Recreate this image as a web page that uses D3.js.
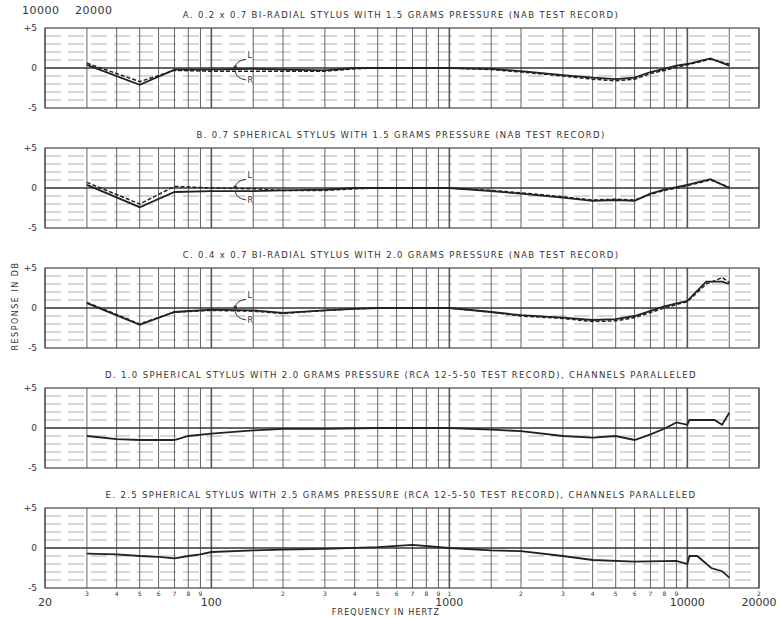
<!DOCTYPE html>
<html>
<head>
<meta charset="utf-8">
<script src="https://cdn.jsdelivr.net/npm/d3@7"></script>
<style>
  body { margin: 0; background: #fff; }
  text { font-family: "DejaVu Sans", sans-serif; fill: #333; }
</style>
</head>
<body>
<svg class="chart" width="780" height="617"></svg>
<script>
// panel titles
var panelTitles = [
  "A.  0.2 x 0.7 BI-RADIAL STYLUS WITH 1.5 GRAMS PRESSURE (NAB TEST RECORD)",
  "B.  0.7 SPHERICAL STYLUS WITH 1.5 GRAMS PRESSURE (NAB TEST RECORD)",
  "C.  0.4 x 0.7 BI-RADIAL STYLUS WITH 2.0 GRAMS PRESSURE (NAB TEST RECORD)",
  "D.  1.0 SPHERICAL STYLUS WITH 2.0 GRAMS PRESSURE (RCA 12-5-50 TEST RECORD), CHANNELS PARALLELED",
  "E.  2.5 SPHERICAL STYLUS WITH 2.5 GRAMS PRESSURE (RCA 12-5-50 TEST RECORD), CHANNELS PARALLELED"
];

// response curves (dB), L solid / R dashed
var freqA = [30, 50, 70, 100, 150, 200, 300, 400, 500, 700, 1000, 1500, 2000, 3000, 4000, 5000, 6000, 7000, 8000, 9000, 10000, 12500, 15000];
var leftA  = [0.4, -2.1, -0.2, -0.2, -0.1, -0.2, -0.3, 0, 0, 0, 0, -0.1, -0.4, -0.9, -1.2, -1.4, -1.2, -0.5, -0.1, 0.3, 0.5, 1.2, 0.3];
var rightA = [0.6, -1.7, -0.3, -0.4, -0.4, -0.4, -0.4, -0.1, 0, 0, 0, -0.2, -0.5, -1.0, -1.4, -1.6, -1.4, -0.7, -0.3, 0.1, 0.4, 1.1, 0.5];

var freqB = [30, 50, 70, 100, 150, 200, 300, 400, 500, 1000, 1500, 2000, 3000, 4000, 5000, 6000, 7000, 8000, 9000, 10000, 12500, 15000];
var leftB  = [0.4, -2.4, -0.5, -0.4, -0.4, -0.3, -0.2, 0, 0, 0, -0.4, -0.7, -1.2, -1.6, -1.5, -1.6, -0.7, -0.2, 0.1, 0.4, 1.1, 0];
var rightB = [0.7, -2.0, 0.2, 0, -0.1, -0.3, -0.3, -0.1, 0, 0, -0.3, -0.6, -1.1, -1.5, -1.4, -1.5, -0.8, -0.3, 0, 0.3, 1.0, 0.1];

var freqC = [30, 50, 70, 100, 150, 200, 300, 400, 500, 1000, 1500, 2000, 3000, 4000, 5000, 6000, 8000, 10000, 12000, 14000, 15000];
var leftC  = [0.6, -2.1, -0.5, -0.2, -0.3, -0.6, -0.3, -0.1, 0, 0, -0.5, -0.9, -1.2, -1.5, -1.4, -1.0, 0.2, 0.9, 3.3, 3.3, 3.0];
var rightC = [0.7, -2.0, -0.5, -0.3, -0.4, -0.7, -0.3, -0.1, 0, 0, -0.5, -1.0, -1.3, -1.7, -1.6, -1.2, 0, 0.8, 3.0, 3.8, 3.2];

var freqD = [30, 40, 50, 70, 80, 100, 150, 200, 300, 500, 1000, 1500, 2000, 3000, 4000, 5000, 6000, 7000, 8000, 9000, 10000, 10200, 13000, 14000, 15000];
var valuesD = [-1.0, -1.4, -1.5, -1.5, -1.0, -0.7, -0.3, -0.1, -0.1, 0, 0, -0.2, -0.4, -1.0, -1.2, -1.0, -1.5, -0.8, -0.1, 0.7, 0.4, 1.0, 1.0, 0.4, 1.9];

var freqE = [30, 40, 50, 60, 70, 80, 90, 100, 150, 200, 300, 500, 700, 1000, 1500, 2000, 3000, 4000, 6000, 9000, 10000, 10200, 11000, 12600, 14000, 15000];
var valuesE = [-0.7, -0.8, -1.0, -1.1, -1.3, -1.0, -0.8, -0.5, -0.3, -0.2, -0.1, 0.1, 0.4, 0, -0.3, -0.4, -1.0, -1.5, -1.7, -1.6, -2.0, -1.0, -1.0, -2.5, -2.9, -3.7];

// grid and tick labels
var gridFreqs = [20, 30, 40, 50, 60, 70, 80, 90, 100, 150, 200, 300, 400, 500, 600, 700, 800, 900,
                 1000, 1500, 2000, 3000, 4000, 5000, 6000, 7000, 8000, 9000, 10000, 15000, 20000];
var decadeFreqs = [100, 1000, 10000];
var majorLabels = [20, 100, 1000, 10000, 20000];
var minorLabelFreqs = [30, 40, 50, 60, 70, 80, 90, 200, 300, 400, 500, 600, 700, 800, 900, 1000,
                       2000, 3000, 4000, 5000, 6000, 7000, 8000, 9000, 20000];
var minorLabels = ["3", "4", "5", "6", "7", "8", "9", "2", "3", "4", "5", "6", "7", "8", "9", "1",
                   "2", "3", "4", "5", "6", "7", "8", "9", "2"];
var dbTicks = [5, 0, -5];
var dbGrid = [4, 3, 2, 1, -1, -2, -3, -4];

var panels = [
  {freq: freqA, series: [leftA, rightA], marks: true},
  {freq: freqB, series: [leftB, rightB], marks: true},
  {freq: freqC, series: [leftC, rightC], marks: true},
  {freq: freqD, series: [valuesD], marks: false},
  {freq: freqE, series: [valuesE], marks: false}
];

var left = 45, right = 759, panelH = 80, firstTop = 28, step = 120;

var x = d3.scaleLog().domain([20, 20000]).range([left, right]);

var svg = d3.select(".chart");

// stray labels from the neighbouring chart
svg.append("text").attr("x", 22).attr("y", 14)
    .style("font-size", "11px").style("letter-spacing", "0.5px").text("10000");
svg.append("text").attr("x", 75).attr("y", 14)
    .style("font-size", "11px").style("letter-spacing", "0.5px").text("20000");

panels.forEach(function(p, i) {
  var top = firstTop + i * step;
  var y = d3.scaleLinear().domain([-5, 5]).range([top + panelH, top]);
  var g = svg.append("g");

  // title
  g.append("text")
      .attr("x", 401).attr("y", top - 10)
      .attr("text-anchor", "middle")
      .style("font-size", "8.5px").style("letter-spacing", "1.35px")
      .text(panelTitles[i]);

  // horizontal dB grid
  g.selectAll(".hgrid").data(dbGrid).enter().append("line")
      .attr("x1", left).attr("x2", right)
      .attr("y1", function(d) { return y(d); })
      .attr("y2", function(d) { return y(d); })
      .attr("stroke", "#999").attr("stroke-width", 0.8)
      .attr("stroke-dasharray", "16,7");

  // vertical frequency grid
  g.selectAll(".vgrid").data(gridFreqs).enter().append("line")
      .attr("x1", function(d) { return x(d); })
      .attr("x2", function(d) { return x(d); })
      .attr("y1", y(5)).attr("y2", y(-5))
      .attr("stroke", "#555")
      .attr("stroke-width", function(d) { return decadeFreqs.indexOf(d) >= 0 ? 1.6 : 0.9; });

  // frame and zero line
  g.append("rect")
      .attr("x", left).attr("y", y(5))
      .attr("width", right - left).attr("height", y(-5) - y(5))
      .attr("fill", "none").attr("stroke", "#444").attr("stroke-width", 1.2);
  g.append("line")
      .attr("x1", left).attr("x2", right)
      .attr("y1", y(0)).attr("y2", y(0))
      .attr("stroke", "#333").attr("stroke-width", 1.3);

  // dB labels
  g.selectAll(".dbl").data(dbTicks).enter().append("text")
      .attr("x", 37).attr("y", function(d) { return y(d) + 3; })
      .attr("text-anchor", "end")
      .style("font-size", "9px")
      .text(function(d) { return d > 0 ? "+" + d : (d < 0 ? "-" + Math.abs(d) : "0"); });

  // curves
  p.series.forEach(function(vals, k) {
    var line = d3.line()
        .x(function(d, j) { return x(p.freq[j]); })
        .y(function(d) { return y(d); });
    g.append("path")
        .datum(vals)
        .attr("d", line)
        .attr("fill", "none")
        .attr("stroke", "#222")
        .attr("stroke-width", k === 0 ? 1.8 : 1.5)
        .attr("stroke-dasharray", k === 0 ? null : "4,2");
  });

  // L / R call-outs
  if (p.marks) {
    g.append("path")
        .attr("d", "M" + x(140) + "," + y(1.1) + " Q" + x(127) + "," + y(0.9) + " " + x(126) + "," + y(0.1))
        .attr("fill", "none").attr("stroke", "#333").attr("stroke-width", 1);
    g.append("path")
        .attr("d", "M" + x(140) + "," + y(-1.5) + " Q" + x(127) + "," + y(-1.3) + " " + x(126) + "," + y(-0.4))
        .attr("fill", "none").attr("stroke", "#333").attr("stroke-width", 1);
    g.append("circle").attr("cx", x(126)).attr("cy", y(0.1)).attr("r", 1.8).attr("fill", "#333");
    g.append("text").attr("x", x(142)).attr("y", y(1.2))
        .style("font-size", "8px").text("L");
    g.append("text").attr("x", x(142)).attr("y", y(-1.9))
        .style("font-size", "8px").text("R");
  }

  // frequency labels under last panel
  if (i === panels.length - 1) {
    g.selectAll(".minl").data(minorLabelFreqs).enter().append("text")
        .attr("x", function(d) { return x(d); })
        .attr("y", y(-5) + 8)
        .attr("text-anchor", "middle")
        .style("font-size", "6px")
        .text(function(d, j) { return minorLabels[j]; });
    g.selectAll(".majl").data(majorLabels).enter().append("text")
        .attr("x", function(d) { return x(d); })
        .attr("y", y(-5) + 18)
        .attr("text-anchor", "middle")
        .style("font-size", "11px")
        .text(function(d) { return d; });
  }
});

// axis titles
svg.append("text")
    .attr("transform", "translate(18,306) rotate(-90)")
    .attr("text-anchor", "middle")
    .style("font-size", "8px").style("letter-spacing", "1.5px")
    .text("RESPONSE IN DB");

svg.append("text")
    .attr("x", 386).attr("y", 615)
    .attr("text-anchor", "middle")
    .style("font-size", "8px").style("letter-spacing", "1.1px")
    .text("FREQUENCY IN HERTZ");
</script>
</body>
</html>
